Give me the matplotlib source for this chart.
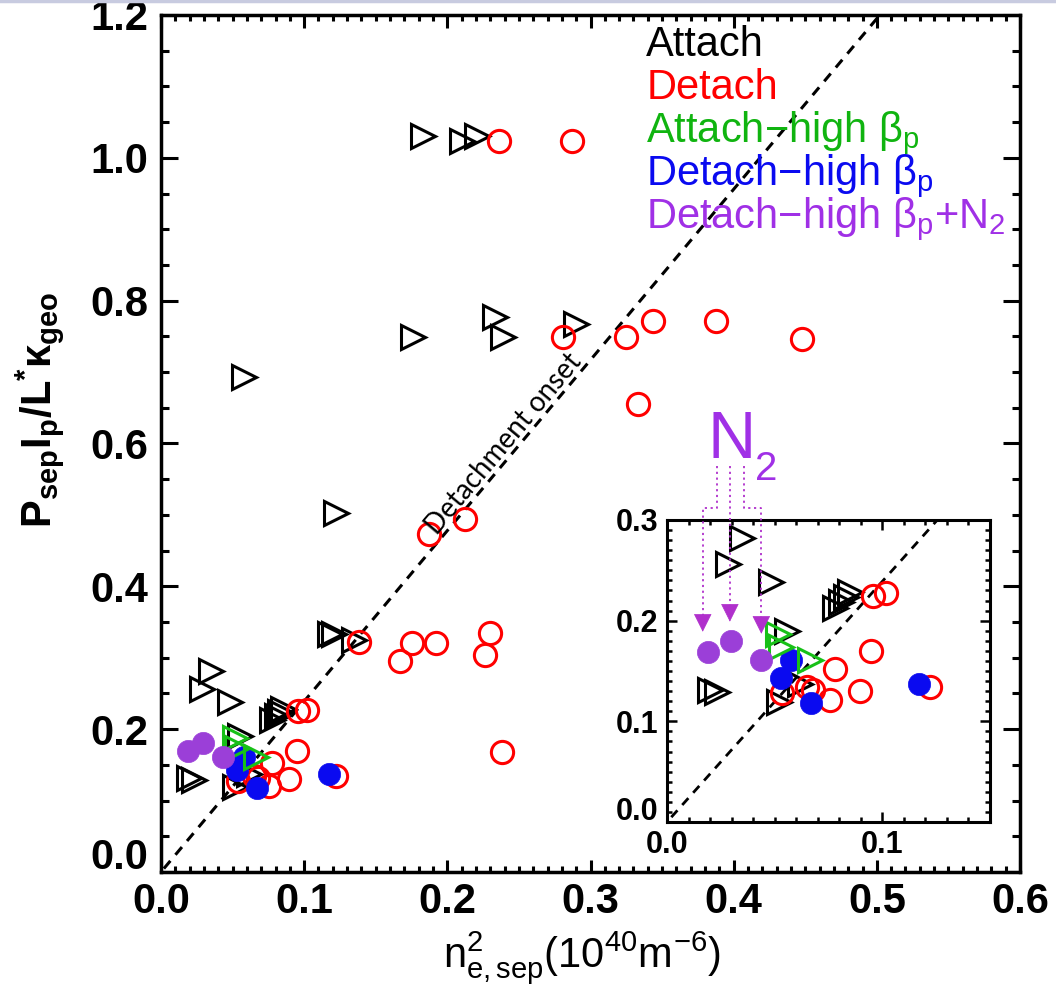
import numpy as np
import matplotlib
matplotlib.use("Agg")
import matplotlib.pyplot as plt
from matplotlib.ticker import MultipleLocator, FormatStrFormatter, FuncFormatter
from matplotlib.lines import Line2D

plt.rcParams['font.family'] = ['Liberation Sans', 'DejaVu Sans']
plt.rcParams['mathtext.fontset'] = 'custom'
plt.rcParams['mathtext.rm'] = 'Liberation Sans'
plt.rcParams['mathtext.it'] = 'Liberation Sans'
plt.rcParams['mathtext.bf'] = 'Liberation Sans:bold'

# ---- data: n_e,sep^2 (1e40 m^-6) vs P_sep I_p / L* kappa_geo ----
attach_x = [0.183, 0.210, 0.221, 0.058, 0.176, 0.233, 0.239, 0.290, 0.122,
            0.118, 0.121, 0.135, 0.0346, 0.0284, 0.0485, 0.0778, 0.0809,
            0.0832, 0.0850, 0.0555, 0.0199, 0.0230, 0.0520, 0.0616]
attach_y = [1.031, 1.024, 1.031, 0.693, 0.749, 0.777, 0.749, 0.767, 0.502,
            0.333, 0.333, 0.325, 0.282, 0.256, 0.238, 0.2125, 0.219,
            0.224, 0.228, 0.190, 0.131, 0.129, 0.119, 0.137]

detach_x = [0.236, 0.287, 0.281, 0.325, 0.344, 0.388, 0.448, 0.333, 0.187,
            0.212, 0.138, 0.167, 0.175, 0.192, 0.2297, 0.226, 0.238, 0.0535,
            0.0650, 0.0680, 0.0755, 0.0778, 0.0894, 0.0948, 0.0955, 0.1018,
            0.1222]
detach_y = [1.023, 1.024, 0.749, 0.749, 0.771, 0.771, 0.746, 0.655, 0.473,
            0.494, 0.322, 0.295, 0.321, 0.321, 0.335, 0.304, 0.168, 0.128,
            0.134, 0.131, 0.121, 0.152, 0.130, 0.170, 0.225, 0.227, 0.134]

attach_hbp_x = [0.0514, 0.0530, 0.0665]
attach_hbp_y = [0.187, 0.174, 0.161]

detach_hbp_x = [0.0577, 0.0531, 0.0670, 0.1170]
detach_hbp_y = [0.161, 0.143, 0.118, 0.137]

detach_hbp_n2_x = [0.0191, 0.0296, 0.0435]
detach_hbp_n2_y = [0.169, 0.180, 0.161]

# detachment onset boundary
onset_slope = 2.39
onset_x = np.array([0.002, 0.502])

legend_labels = ['Attach', 'Detach',
                 'Attach\u2212high \u03b2$_\\mathregular{p}$',
                 'Detach\u2212high \u03b2$_\\mathregular{p}$',
                 'Detach\u2212high \u03b2$_\\mathregular{p}$+N$_\\mathregular{2}$']

RED = '#ff0000'
BLUE = '#0a0af0'
GREEN = '#18c018'
GREEN_TXT = '#10b410'
PURPLE = '#9b3fd8'
PURPLE_TXT = '#a030e6'
legend_colors = ['black', RED, GREEN_TXT, BLUE, PURPLE_TXT]

W, H = 1056, 991
fig = plt.figure(figsize=(W / 100, H / 100), dpi=100)
fig.patch.set_facecolor('white')


def draw_data(ax, lw_dash):
    ax.plot(onset_x, onset_slope * onset_x, color='black', lw=lw_dash,
            ls=(0, (3.3, 2.6)), zorder=2)
    ax.plot(attach_x, attach_y, ls='none', marker='>', ms=17, mfc='none',
            mec='black', mew=2.2, zorder=3)
    ax.plot(detach_x, detach_y, ls='none', marker='o', ms=16, mfc='none',
            mec=RED, mew=2.2, zorder=4)
    ax.plot(detach_hbp_x, detach_hbp_y, ls='none', marker='o', ms=16,
            mfc=BLUE, mec=BLUE, mew=0.5, zorder=5)
    ax.plot(attach_hbp_x, attach_hbp_y, ls='none', marker='>', ms=17,
            mfc='none', mec=GREEN, mew=2.2, zorder=6)
    ax.plot(detach_hbp_n2_x, detach_hbp_n2_y, ls='none', marker='o', ms=16,
            mfc=PURPLE, mec=PURPLE, mew=0.5, zorder=7)


def no_zero(fmt):
    return FuncFormatter(lambda v, p: '' if abs(v) < 1e-9 else fmt % v)


# ---- main axes ----
ax = fig.add_axes([161 / W, 1 - 872 / H, (1020 - 161) / W, (872 - 15) / H])
ax.set_xlim(0, 0.6)
ax.set_ylim(0, 1.2)
draw_data(ax, 2.2)

for s in ax.spines.values():
    s.set_linewidth(2.5)
ax.xaxis.set_major_locator(MultipleLocator(0.1))
ax.xaxis.set_minor_locator(MultipleLocator(0.01))
ax.yaxis.set_major_locator(MultipleLocator(0.2))
ax.yaxis.set_minor_locator(MultipleLocator(0.05))
ax.xaxis.set_major_formatter(FormatStrFormatter('%.1f'))
# the zero label of the y axis is drawn separately, lifted off the corner
ax.yaxis.set_major_formatter(no_zero('%.1f'))
ax.tick_params(which='both', direction='in', top=True, right=True, width=2.2)
ax.xaxis.set_tick_params(which='major', length=9, pad=7)
ax.xaxis.set_tick_params(which='minor', length=4)
ax.yaxis.set_tick_params(which='major', length=12, pad=9)
ax.yaxis.set_tick_params(which='minor', length=6)
for lab in ax.get_xticklabels() + ax.get_yticklabels():
    lab.set_fontsize(30)
    lab.set_fontweight('bold')
fig.text(148 / W, 1 - 858 / H, '0.0', ha='right', va='center',
         fontsize=30, fontweight='bold')

fig.text(40 / W, 1 - 410 / H,
         'P$_\\mathregular{sep}$I$_\\mathregular{p}$/L$^\\mathregular{*}$'
         '\u03ba$_\\mathregular{geo}$',
         rotation=90, ha='center', va='center', fontsize=30, fontweight='bold')
fig.text(582 / W, 1 - 958 / H,
         'n$^\\mathregular{2}_\\mathregular{e,sep}$(10$^\\mathregular{40}$'
         'm$^\\mathregular{\u22126}$)',
         ha='center', va='center', fontsize=30)

# legend as coloured text lines
leg_y0 = 1.143
leg_dy = 0.0603
for i, (txt, col) in enumerate(zip(legend_labels, legend_colors)):
    ax.text(0.339, leg_y0 - i * leg_dy, txt, color=col, fontsize=30,
            ha='left', va='baseline', zorder=10)

# label along the onset line
fig.canvas.draw()
p0 = ax.transData.transform((0.0, 0.0))
p1 = ax.transData.transform((0.1, 0.1 * onset_slope))
ang = np.degrees(np.arctan2(p1[1] - p0[1], p1[0] - p0[0]))
xc = 0.246
off = 3.0
ax.annotate('Detachment onset', xy=(xc, onset_slope * xc),
            xytext=(-off * np.sin(np.radians(ang)), off * np.cos(np.radians(ang))),
            textcoords='offset points', rotation=ang, rotation_mode='anchor',
            ha='center', va='baseline', fontsize=20,
            family=['Lato', 'DejaVu Sans'], zorder=8)

# ---- inset ----
axi = fig.add_axes([667 / W, 1 - 822 / H, (990 - 667) / W, (822 - 520) / H])
axi.set_facecolor('white')
axi.set_xlim(0, 0.15)
axi.set_ylim(0, 0.3)
draw_data(axi, 2.0)
for s in axi.spines.values():
    s.set_linewidth(2.2)
axi.xaxis.set_major_locator(MultipleLocator(0.1))
axi.xaxis.set_minor_locator(MultipleLocator(0.01))
axi.yaxis.set_major_locator(MultipleLocator(0.1))
axi.yaxis.set_minor_locator(MultipleLocator(0.01))
axi.xaxis.set_major_formatter(FormatStrFormatter('%.1f'))
axi.yaxis.set_major_formatter(no_zero('%.1f'))
axi.tick_params(which='both', direction='in', top=True, right=True, width=1.8)
axi.tick_params(which='major', length=7, pad=6)
axi.tick_params(which='minor', length=3.5)
for lab in axi.get_xticklabels() + axi.get_yticklabels():
    lab.set_fontsize(22)
    lab.set_fontweight('bold')
fig.text(658 / W, 1 - 812 / H, '0.0', ha='right', va='center',
         fontsize=22, fontweight='bold')

# N2 pointers to the seeded shots
N2_COL = '#b030cc'
top_y, bend_y = 0.354, 0.312
pointer_paths = [
    [(0.0230, top_y), (0.0230, bend_y), (0.0166, bend_y), (0.0166, 0.205)],
    [(0.0292, top_y), (0.0292, 0.215)],
    [(0.0356, top_y), (0.0356, bend_y), (0.0438, bend_y), (0.0438, 0.203)],
]
tips = [(0.0166, 0.189), (0.0292, 0.199), (0.0438, 0.187)]
for path, tip in zip(pointer_paths, tips):
    xs, ys = zip(*path)
    axi.plot(xs, ys, color=N2_COL, lw=1.3, ls=(0, (1.2, 2.0)),
             clip_on=False, zorder=9)
    axi.annotate('', xy=tip, xytext=(tip[0], tip[1] + 0.016),
                 arrowprops=dict(arrowstyle='-|>,head_length=0.7,head_width=0.35',
                                 color=N2_COL, lw=0.5, shrinkA=0, shrinkB=0,
                                 mutation_scale=17),
                 annotation_clip=False, zorder=9)
axi.text(0.0300, 0.3615, 'N', color=PURPLE_TXT, fontsize=48,
         family=['Liberation Sans Narrow', 'Liberation Sans'],
         ha='center', va='baseline', clip_on=False)
axi.text(0.0410, 0.3396, '2', color=PURPLE_TXT, fontsize=29,
         family=['Liberation Sans Narrow', 'Liberation Sans'],
         ha='left', va='baseline', clip_on=False)

# thin frame line along the top edge of the canvas
fig.add_artist(Line2D([0, 1], [0.999, 0.999], transform=fig.transFigure,
                      color='#c8cbe0', lw=2.5))

fig.savefig('out.png', dpi=100, facecolor='white')
